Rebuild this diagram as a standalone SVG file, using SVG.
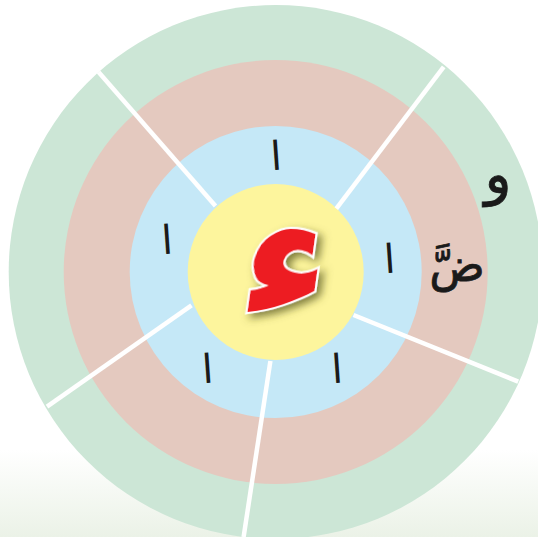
<svg xmlns="http://www.w3.org/2000/svg" width="538" height="537" viewBox="0 0 538 537">
<defs>
<linearGradient id="bg" x1="0" y1="0" x2="0" y2="1">
<stop offset="0" stop-color="#ffffff"/>
<stop offset="1" stop-color="#ebf2e7"/>
</linearGradient>
<filter id="sh" x="-30%" y="-30%" width="160%" height="160%">
<feGaussianBlur in="SourceAlpha" stdDeviation="4"/>
<feOffset dx="5" dy="4" result="b"/>
<feFlood flood-color="#5a5a20" flood-opacity="0.75"/>
<feComposite in2="b" operator="in"/>
<feMerge><feMergeNode/><feMergeNode in="SourceGraphic"/></feMerge>
</filter>
</defs>
<style>
.div{stroke:#ffffff;stroke-width:4.5;fill:none}
.ar{font-family:"DejaVu Sans","Noto Sans",sans-serif;fill:#1a1a1a;text-anchor:middle}
.big{font-family:"DejaVu Sans",sans-serif;font-weight:bold;fill:#ed1c24;stroke:#ffffff;stroke-width:4;paint-order:stroke;text-anchor:middle}
</style>
<rect x="0" y="0" width="538" height="537" fill="#ffffff"/>
<rect x="0" y="450" width="538" height="87" fill="url(#bg)"/>
<g id="rings">
<circle id="ring-green" cx="275.7" cy="272" r="267" fill="#cce6d6"/>
<circle id="ring-pink" cx="275.7" cy="272" r="212" fill="#e4c9bf"/>
<circle id="ring-blue" cx="275.7" cy="272" r="146" fill="#c5e8f7"/>
<circle id="ring-yellow" cx="275.7" cy="272" r="88" fill="#fdf59d"/>
</g>
<g id="connectors">
<line class="div" x1="98.5" y1="72" x2="215.5" y2="206"/>
<line class="div" x1="443.7" y1="66.9" x2="336.3" y2="208.6"/>
<line class="div" x1="353.5" y1="315" x2="518.2" y2="381.6"/>
<line class="div" x1="191.5" y1="305.4" x2="47" y2="406.7"/>
<line class="div" x1="270.4" y1="361" x2="243.6" y2="537"/>
</g>
<g id="center">
<text class="big" x="0" y="0" font-size="176" filter="url(#sh)" transform="translate(279 316) skewX(-8)">ء</text>
</g>
<g id="alefs">
<text class="ar" x="276" y="170" font-size="40" transform="rotate(-4 276 155)">ا</text>
<text class="ar" x="167" y="254" font-size="40" transform="rotate(-4 167 239)">ا</text>
<text class="ar" x="389.5" y="273" font-size="40" transform="rotate(-4 389.5 258)">ا</text>
<text class="ar" x="207.6" y="383" font-size="40" transform="rotate(-4 207.6 368)">ا</text>
<text class="ar" x="337" y="383" font-size="40" transform="rotate(-4 337 368)">ا</text>
</g>
<g id="letters">
<text class="ar" x="498" y="193" font-size="56" stroke="#1a1a1a" stroke-width="0.8">و</text>
<text class="ar" x="457" y="281" font-size="46" stroke="#1a1a1a" stroke-width="0.8">ضَّ</text>
</g>
</svg>
